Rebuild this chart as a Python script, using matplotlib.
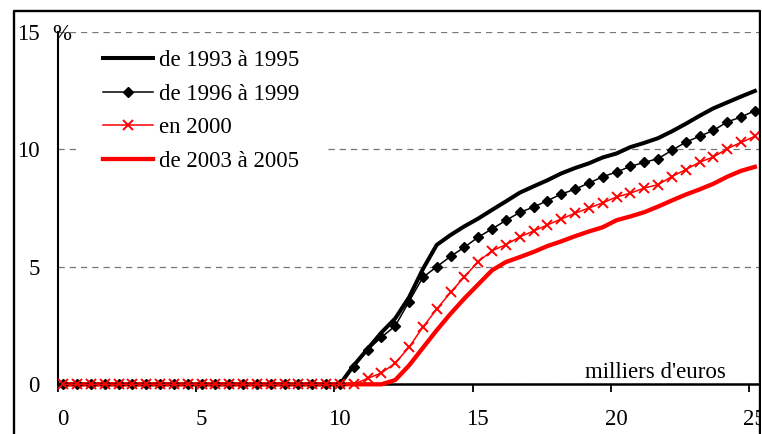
import numpy as np
import matplotlib
matplotlib.use('Agg')
import matplotlib.pyplot as plt
from matplotlib.lines import Line2D
from matplotlib.patches import Rectangle
from matplotlib.transforms import ScaledTranslation

plt.rcParams['font.family'] = ['Liberation Serif', 'DejaVu Serif']

# revenu (milliers d'euros)
x = [0.2, 0.7, 1.2, 1.7, 2.2, 2.7, 3.2, 3.7, 4.2, 4.7,
     5.2, 5.7, 6.2, 6.7, 7.2, 7.7, 8.2, 8.7, 9.2, 9.7,
     10.2, 10.7, 11.2, 11.7, 12.2, 12.7, 13.2, 13.7, 14.2, 14.7,
     15.2, 15.7, 16.2, 16.7, 17.2, 17.7, 18.2, 18.7, 19.2, 19.7,
     20.2, 20.7, 21.2, 21.7, 22.2, 22.7, 23.2, 23.7, 24.2, 24.7, 25.2]
zeros = [0.0] * 21

s_93_95 = zeros + [0.8, 1.5, 2.2, 2.8, 3.7, 4.9, 5.93, 6.35, 6.72, 7.05,
                   7.42, 7.78, 8.15, 8.42, 8.68, 8.97, 9.2, 9.4, 9.65, 9.82,
                   10.09, 10.27, 10.47, 10.76, 11.08, 11.42, 11.74, 11.99, 12.24, 12.48]
s_96_99 = zeros + [0.75, 1.46, 2.0, 2.48, 3.52, 4.55, 5.0, 5.44, 5.83, 6.26,
                   6.61, 6.97, 7.31, 7.54, 7.81, 8.09, 8.3, 8.56, 8.83, 9.03,
                   9.27, 9.44, 9.6, 9.95, 10.3, 10.55, 10.8, 11.16, 11.37, 11.64]
s_2000 = zeros + [0.0, 0.25, 0.48, 0.9, 1.58, 2.43, 3.2, 3.91, 4.57, 5.22,
                  5.68, 5.94, 6.27, 6.52, 6.78, 7.03, 7.28, 7.5, 7.72, 7.97,
                  8.13, 8.35, 8.49, 8.84, 9.13, 9.45, 9.67, 10.02, 10.29, 10.55]
s_03_05 = zeros + [0.0, 0.0, 0.0, 0.18, 0.8, 1.55, 2.3, 3.0, 3.65, 4.25,
                   4.85, 5.2, 5.41, 5.63, 5.88, 6.08, 6.3, 6.5, 6.68, 6.98,
                   7.14, 7.32, 7.56, 7.82, 8.07, 8.29, 8.53, 8.83, 9.08, 9.25]

labels = ['de 1993 à 1995', 'de 1996 à 1999', 'en 2000', 'de 2003 à 2005']
xticks = [0, 5, 10, 15, 20, 25]
yticks = [0, 5, 10, 15]
FS = 16.5

W, H = 762, 434
fig = plt.figure(figsize=(W / 100, H / 100), dpi=100)
ax = fig.add_axes([57.7 / W, (H - 384.3) / H, (759 - 57.7) / W, (384.3 - 31.7) / H])

l1, = ax.plot(x, s_93_95, color='black', lw=2.9, zorder=3, clip_on=False)
l4, = ax.plot(x, s_03_05, color='red', lw=3.1, zorder=4, clip_on=False)
l2, = ax.plot(x, s_96_99, color='black', lw=1.1, marker='D', ms=4.6,
              zorder=5, clip_on=False)
l3, = ax.plot(x, s_2000, color='red', lw=1.1, marker='x', ms=7.5, mew=1.4,
              zorder=6, clip_on=False)

ax.set_xlim(0, 25.35)
ax.set_ylim(0, 15)
ax.set_xticks(xticks)
ax.set_yticks(yticks)
ax.set_yticklabels([str(v) for v in yticks])
ax.tick_params(axis='x', direction='out', length=6, width=1.3, pad=11.5, labelsize=FS)
ax.tick_params(axis='y', length=0, pad=13, labelsize=FS)
for lab in ax.get_xticklabels():
    lab.set_transform(lab.get_transform() + ScaledTranslation(0.05, 0, fig.dpi_scale_trans))

for sp in ['top', 'right']:
    ax.spines[sp].set_visible(False)
ax.spines['left'].set_linewidth(1.5)
ax.spines['bottom'].set_linewidth(1.8)
ax.yaxis.grid(True, color='#777777', ls=(0, (5, 4)), lw=0.9)
ax.set_axisbelow(True)

ax.text(-0.2, 14.9, '%', fontsize=FS, ha='left', va='center')
ax.text(21.6, 0.25, "milliers d'euros", fontsize=FS, ha='center', va='baseline')

# white area behind the legend (hides part of the grid)
ax.add_patch(Rectangle((77, H - 178), 248, 138, transform=None,
                       facecolor='white', edgecolor='none', zorder=1.5))
leg = ax.legend([l1, l2, l3, l4], labels, loc='upper left',
                bbox_to_anchor=(103 / W, (H - 50) / H), bbox_transform=fig.transFigure,
                frameon=False, fontsize=FS, handlelength=2.2, handletextpad=0.25,
                labelspacing=0.55, borderpad=0, borderaxespad=0)

# outer frame
fig.add_artist(Line2D([13.5 / W, 13.5 / W, 759.5 / W, 759.5 / W],
                      [0, (H - 11) / H, (H - 11) / H, 0], color='black', lw=1.7))
fig.add_artist(Rectangle((760.5 / W, 0), 2 / W, 1, transform=fig.transFigure,
                         facecolor='white', edgecolor='none', zorder=10))

fig.savefig('out.png', dpi=100)
